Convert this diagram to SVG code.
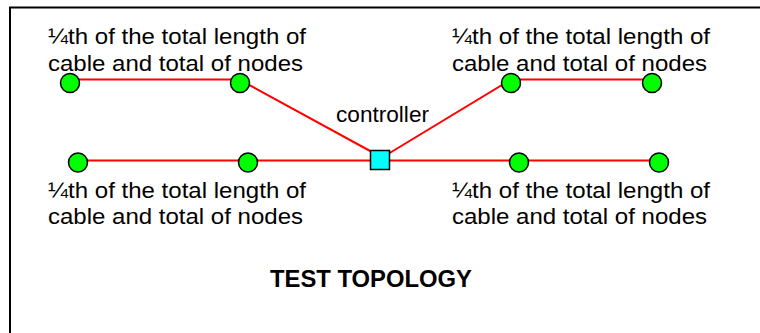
<svg xmlns="http://www.w3.org/2000/svg" width="760" height="333" viewBox="0 0 760 333">
<style>
.t{font-family:"Liberation Sans",Arial,sans-serif;font-size:22.5px;fill:#000}
.b{font-family:"Liberation Sans",Arial,sans-serif;font-size:23px;font-weight:bold;fill:#000}
.n{fill:#00ff00;stroke:#000;stroke-width:1.5}
.c{stroke:#ff0000;stroke-width:2;fill:none}
</style>
<rect x="10" y="7.5" width="800" height="400" fill="#fff" stroke="#000" stroke-width="2"/>
<g id="connectors">
<line class="c" x1="70" y1="79.5" x2="240" y2="79.5"/>
<line class="c" x1="240" y1="80" x2="372" y2="152"/>
<line class="c" x1="388" y1="154" x2="511" y2="79.5"/>
<line class="c" x1="511" y1="79.5" x2="652" y2="79.5"/>
<line class="c" x1="78" y1="160.5" x2="380" y2="160.5"/>
<line class="c" x1="380" y1="160.5" x2="659" y2="160.5"/>
</g>
<g id="n1"><circle class="n" cx="70" cy="83" r="9.5"/></g>
<g id="n2"><circle class="n" cx="240" cy="83" r="9.5"/></g>
<g id="n3"><circle class="n" cx="511" cy="83" r="9.5"/></g>
<g id="n4"><circle class="n" cx="652" cy="83" r="9.5"/></g>
<g id="n5"><circle class="n" cx="78" cy="162.5" r="9.5"/></g>
<g id="n6"><circle class="n" cx="248" cy="162.5" r="9.5"/></g>
<g id="n7"><circle class="n" cx="519" cy="162.5" r="9.5"/></g>
<g id="n8"><circle class="n" cx="659" cy="162.5" r="9.5"/></g>
<g id="controller">
<rect x="370.5" y="150.5" width="19" height="19" fill="#00ffff" stroke="#000" stroke-width="1.5"/>
<text class="t" x="336" y="121.5" textLength="93" lengthAdjust="spacingAndGlyphs">controller</text>
</g>
<g id="label-tl">
<text class="t" x="48" y="43.5" textLength="258" lengthAdjust="spacingAndGlyphs">¼th of the total length of</text>
<text class="t" x="48" y="70.5" textLength="255" lengthAdjust="spacingAndGlyphs">cable and total of nodes</text>
</g>
<g id="label-tr">
<text class="t" x="452" y="43.5" textLength="258" lengthAdjust="spacingAndGlyphs">¼th of the total length of</text>
<text class="t" x="452" y="70.5" textLength="255" lengthAdjust="spacingAndGlyphs">cable and total of nodes</text>
</g>
<g id="label-bl">
<text class="t" x="48" y="197.5" textLength="258" lengthAdjust="spacingAndGlyphs">¼th of the total length of</text>
<text class="t" x="48" y="224" textLength="255" lengthAdjust="spacingAndGlyphs">cable and total of nodes</text>
</g>
<g id="label-br">
<text class="t" x="452" y="197.5" textLength="258" lengthAdjust="spacingAndGlyphs">¼th of the total length of</text>
<text class="t" x="452" y="224" textLength="255" lengthAdjust="spacingAndGlyphs">cable and total of nodes</text>
</g>
<g id="title">
<text class="b" x="270" y="286.5" textLength="202" lengthAdjust="spacingAndGlyphs">TEST TOPOLOGY</text>
</g>
</svg>
